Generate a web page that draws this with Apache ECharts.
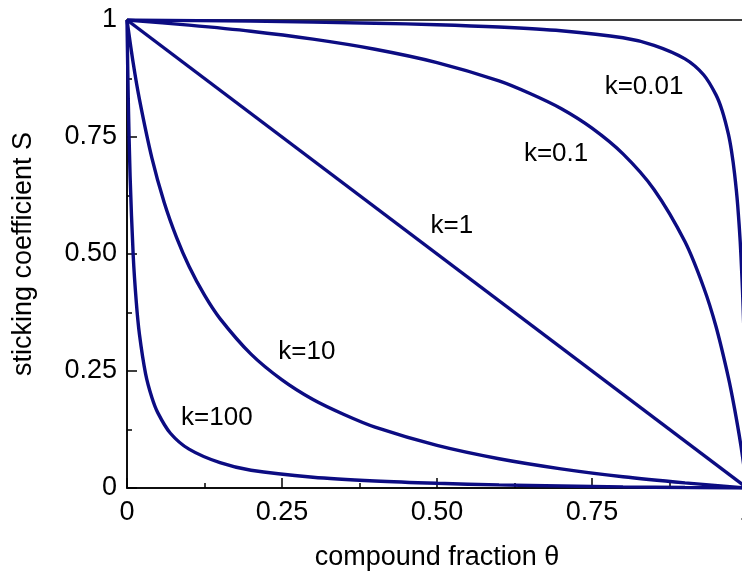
<!DOCTYPE html>
<html>
<head>
<meta charset="utf-8">
<script src="https://cdn.jsdelivr.net/npm/echarts@6/dist/echarts.min.js"></script>
<style>
html,body{margin:0;padding:0;background:#fff;}
#chart{width:742px;height:574px;}
</style>
</head>
<body>
<div id="chart"></div>
<script>
// θ sample points and S values
const thetaK100 = [0, 0.002, 0.005, 0.01, 0.015, 0.02, 0.03, 0.04, 0.05, 0.07, 0.1, 0.15, 0.2, 0.3, 0.4, 0.5, 0.6, 0.7, 0.8, 0.9, 1];
const sK100 =     [1, 0.833, 0.666, 0.497, 0.397, 0.329, 0.244, 0.194, 0.160, 0.117, 0.083, 0.054, 0.038, 0.023, 0.015, 0.010, 0.0066, 0.0043, 0.0025, 0.0011, 0];

const thetaK10 = [0, 0.01, 0.02, 0.04, 0.06, 0.08, 0.1, 0.125, 0.15, 0.2, 0.25, 0.3, 0.35, 0.4, 0.5, 0.6, 0.7, 0.8, 0.9, 1];
const sK10 =     [1, 0.908, 0.831, 0.706, 0.610, 0.535, 0.474, 0.412, 0.362, 0.286, 0.231, 0.189, 0.157, 0.130, 0.091, 0.0625, 0.041, 0.024, 0.011, 0];

const thetaK1 = [0, 1];
const sK1 =     [1, 0];

const thetaK01 = [0, 0.1, 0.2, 0.3, 0.4, 0.5, 0.6, 0.65, 0.7, 0.75, 0.8, 0.85, 0.9, 0.93, 0.95, 0.97, 0.98, 0.99, 1];
const sK01 =     [1, 0.989, 0.976, 0.959, 0.9375, 0.909, 0.870, 0.843, 0.811, 0.769, 0.714, 0.638, 0.526, 0.429, 0.345, 0.236, 0.169, 0.092, 0];

const thetaK001 = [0, 0.2, 0.4, 0.5, 0.6, 0.7, 0.8, 0.85, 0.9, 0.93, 0.95, 0.96, 0.97, 0.975, 0.98, 0.985, 0.99, 0.995, 1];
const sK001 =     [1, 0.9975, 0.993, 0.990, 0.985, 0.977, 0.962, 0.946, 0.917, 0.883, 0.840, 0.806, 0.756, 0.720, 0.671, 0.604, 0.503, 0.334, 0];

const curveLabels = ['k=100', 'k=10', 'k=1', 'k=0.1', 'k=0.01'];
const yTickLabels = {0: '0', 0.25: '0.25', 0.5: '0.50', 0.75: '0.75', 1: '1'};
const xTickLabels = {0: '0', 0.25: '0.25', 0.5: '0.50', 0.75: '0.75', 1: '1'};

const FONT = '"Liberation Sans", Arial, sans-serif';
const NAVY = '#0c0c82';

function pairs(xs, ys) { return xs.map((x, i) => [x, ys[i]]); }

const curves = [
  {x: thetaK100, y: sK100, at: [0.145, 0.150]},
  {x: thetaK10, y: sK10, at: [0.29, 0.292]},
  {x: thetaK1, y: sK1, at: [0.524, 0.561]},
  {x: thetaK01, y: sK01, at: [0.692, 0.715]},
  {x: thetaK001, y: sK001, at: [0.834, 0.858]}
];

const chart = echarts.init(document.getElementById('chart'), null, {renderer: 'canvas'});
chart.setOption({
  backgroundColor: '#fff',
  animation: false,
  grid: {left: 127, top: 20, width: 620, height: 468, containLabel: false, outerBoundsMode: 'none', show: true, borderColor: '#000', borderWidth: 1.5, backgroundColor: 'transparent'},
  xAxis: {
    type: 'value', min: 0, max: 1, interval: 0.25,
    name: 'compound fraction θ', nameLocation: 'middle', nameGap: 56,
    nameTextStyle: {fontFamily: FONT, fontSize: 27, color: '#000'},
    axisLine: {show: true, onZero: false, lineStyle: {color: '#000', width: 1.5}},
    axisTick: {show: true, inside: true, length: 10, lineStyle: {color: '#000', width: 1.5}},
    minorTick: {show: true, splitNumber: 2, length: 5, lineStyle: {color: '#000', width: 1.5}},
    splitLine: {show: false},
    axisLabel: {fontFamily: FONT, fontSize: 27, color: '#000', margin: 11, formatter: v => xTickLabels[v] !== undefined ? xTickLabels[v] : ''}
  },
  yAxis: {
    type: 'value', min: 0, max: 1, interval: 0.25,
    name: 'sticking coefficient S', nameLocation: 'middle', nameGap: 90,
    nameTextStyle: {fontFamily: FONT, fontSize: 27, color: '#000'},
    axisLine: {show: true, onZero: false, lineStyle: {color: '#000', width: 1.5}},
    axisTick: {show: true, inside: true, length: 10, lineStyle: {color: '#000', width: 1.5}},
    minorTick: {show: true, splitNumber: 2, length: 5, lineStyle: {color: '#000', width: 1.5}},
    splitLine: {show: false},
    axisLabel: {fontFamily: FONT, fontSize: 27, color: '#000', margin: 10, formatter: v => yTickLabels[v] !== undefined ? yTickLabels[v] : ''}
  },
  series: curves.map((c, i) => ({
    type: 'line',
    name: curveLabels[i],
    data: pairs(c.x, c.y),
    smooth: 0.3,
    showSymbol: false,
    symbol: 'none',
    clip: true,
    lineStyle: {color: NAVY, width: 3.4},
    markPoint: {
      symbol: 'circle', symbolSize: 0,
      data: [{coord: c.at, value: curveLabels[i]}],
      label: {show: true, position: 'inside', formatter: curveLabels[i], fontFamily: FONT, fontSize: 26, color: '#000'}
    }
  }))
});
</script>
</body>
</html>
